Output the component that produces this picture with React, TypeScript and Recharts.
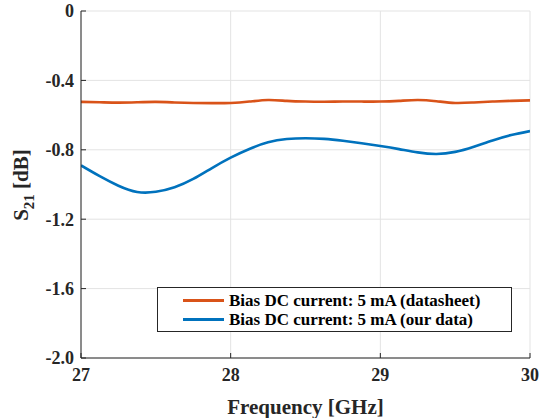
import { CartesianGrid, Line, LineChart, XAxis, YAxis } from "recharts";

const freqGHz = [
  27.0, 27.125, 27.25, 27.375, 27.5, 27.625, 27.75, 27.875, 28.0, 28.125, 28.25, 28.375, 28.5,
  28.625, 28.75, 28.875, 29.0, 29.125, 29.25, 29.375, 29.5, 29.625, 29.75, 29.875, 30.0,
];

const datasheetDb = [
  -0.524, -0.526, -0.528, -0.526, -0.524, -0.527, -0.53, -0.531, -0.53, -0.522, -0.513, -0.518, -0.522,
  -0.523, -0.522, -0.522, -0.522, -0.518, -0.513, -0.52, -0.53, -0.527, -0.522, -0.518, -0.515,
];

const ourDataDb = [
  -0.89, -0.952, -1.007, -1.043, -1.042, -1.016, -0.968, -0.905, -0.845, -0.795, -0.757, -0.738, -0.733,
  -0.737, -0.748, -0.762, -0.778, -0.796, -0.815, -0.824, -0.812, -0.782, -0.746, -0.715, -0.692,
];

const xTicks = [27, 28, 29, 30];
const yTicks = [0, -0.4, -0.8, -1.2, -1.6, -2.0];

const seriesNames = ["Bias DC current: 5 mA (datasheet)", "Bias DC current: 5 mA (our data)"];
const seriesColors = ["#D95319", "#0072BD"];

const data = freqGHz.map((f, i) => ({ f, ds: datasheetDb[i], ours: ourDataDb[i] }));

const font = "'Liberation Serif', 'Times New Roman', serif";
const axisColor = "#262626";
const tickStyle = { fontFamily: font, fontSize: 18, fontWeight: 700, fill: "#262626" };

function YLabel() {
  return (
    <text
      transform="translate(28,185) rotate(-90)"
      textAnchor="middle"
      fontFamily={font}
      fontWeight={700}
      fontSize={21}
      fill="#262626"
    >
      <tspan>S</tspan>
      <tspan fontSize={15} dy={6}>21</tspan>
      <tspan dy={-6}> [dB]</tspan>
    </text>
  );
}

function LegendBox() {
  return (
    <div
      style={{
        position: "absolute",
        left: 157,
        top: 287,
        border: "1px solid #262626",
        background: "#fff",
        width: 355,
        height: 45,
        boxSizing: "border-box",
        padding: "3px 0 0 25px",
        fontFamily: font,
        fontWeight: 700,
        fontSize: 17,
        color: "#000",
        lineHeight: "19px",
      }}
    >
      {seriesNames.map((n, i) => (
        <div key={n} style={{ display: "flex", alignItems: "center", whiteSpace: "nowrap" }}>
          <span style={{ display: "inline-block", width: 41, height: 3, background: seriesColors[i], marginRight: 5 }} />
          {n}
        </div>
      ))}
    </div>
  );
}

export default function App() {
  return (
    <div style={{ position: "absolute", left: 0, top: 0, width: 539, height: 418 }}>
      <LineChart width={539} height={418} data={data} margin={{ top: 11, right: 9, bottom: 0, left: 0 }}>
        <CartesianGrid stroke="#e3e3e3" strokeWidth={1} />
        <XAxis
          dataKey="f"
          type="number"
          domain={[27, 30]}
          ticks={xTicks}
          allowDataOverflow
          height={60}
          stroke={axisColor}
          tickSize={-5}
          tickMargin={15}
          tick={tickStyle}
          label={{
            value: "Frequency [GHz]",
            position: "insideBottom",
            offset: 4,
            style: { fontFamily: font, fontSize: 21, fontWeight: 700, fill: "#262626" },
          }}
        />
        <XAxis
          xAxisId="top"
          dataKey="f"
          type="number"
          domain={[27, 30]}
          ticks={xTicks}
          orientation="top"
          height={0}
          stroke={axisColor}
          tickSize={-5}
          tick={false}
        />
        <YAxis
          type="number"
          domain={[-2, 0]}
          ticks={yTicks}
          width={81}
          stroke={axisColor}
          tickSize={-5}
          tickMargin={12}
          tick={tickStyle}
          tickFormatter={(v: number) => (v === 0 ? "0" : v.toFixed(1))}
          label={<YLabel />}
        />
        <YAxis
          yAxisId="right"
          type="number"
          domain={[-2, 0]}
          ticks={yTicks}
          orientation="right"
          width={0}
          stroke={axisColor}
          tickSize={-5}
          tick={false}
        />
        <Line
          dataKey="ds"
          name={seriesNames[0]}
          type="natural"
          stroke={seriesColors[0]}
          strokeWidth={2.6}
          dot={false}
          isAnimationActive={false}
        />
        <Line
          dataKey="ours"
          name={seriesNames[1]}
          type="natural"
          stroke={seriesColors[1]}
          strokeWidth={2.6}
          dot={false}
          isAnimationActive={false}
        />
      </LineChart>
      <LegendBox />
    </div>
  );
}
